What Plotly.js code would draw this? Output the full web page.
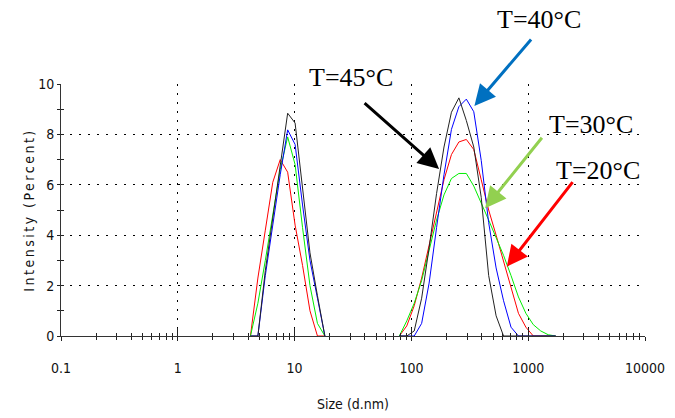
<!DOCTYPE html>
<html>
<head>
<meta charset="utf-8">
<script src="https://cdn.plot.ly/plotly-3.0.1.min.js"></script>
<style>
  html, body { margin: 0; padding: 0; background: #fff; }
  #chart { width: 675px; height: 418px; }
  .ytitle { letter-spacing: 2.5px; }
</style>
</head>
<body>
<div id="chart"></div>
<script>
// Size bins (d.nm) for the two peaks
const sizesSmall = [4.187, 4.849, 5.615, 6.503, 7.531, 8.721, 10.10, 11.70, 13.54, 15.69, 18.17];
const sizesLarge = [78.82, 91.28, 105.7, 122.4, 141.8, 164.2, 190.1, 220.2, 255.0, 295.3, 342.0, 396.1,
                    458.7, 531.2, 615.1, 712.4, 825.0, 955.4, 1106, 1281, 1484, 1718];

// Intensity (%) per temperature
const t20Small = [0, 2.3, 4.2, 6.1, 7.0, 6.5, 4.4, 2.8, 1.0, 0, 0];
const t20Large = [0, 0.4, 1.2, 2.3, 3.6, 4.9, 6.2, 7.2, 7.7, 7.8, 7.4, 6.2, 5.0, 4.0, 3.0, 1.9, 0.9, 0.35, 0, 0, 0, 0];

const t30Small = [0, 1.3, 3.0, 4.8, 6.6, 7.9, 6.8, 4.3, 2.0, 0.5, 0];
const t30Large = [0, 0.6, 1.3, 2.2, 3.4, 4.6, 5.6, 6.25, 6.45, 6.45, 5.95, 5.3, 4.6, 3.9, 3.2, 2.4, 1.55, 0.9, 0.45, 0.2, 0.05, 0];

const t40Small = [0, 0, 2.4, 4.4, 6.4, 8.18, 7.6, 5.2, 3.0, 1.5, 0];
const t40Large = [0, 0, 0, 0.5, 2.1, 4.3, 6.4, 8.2, 9.1, 9.4, 8.9, 6.97, 4.5, 2.7, 1.4, 0.35, 0, 0, 0, 0, 0, 0];

const t45Small = [0, 0, 2.6, 4.7, 6.8, 8.84, 8.45, 5.9, 3.3, 1.6, 0];
const t45Large = [0, 0, 0.2, 1.5, 3.5, 5.65, 7.5, 8.88, 9.45, 8.55, 7.5, 5.5, 2.4, 0.8, 0, 0, 0, 0, 0, 0, 0, 0];

// Axis ticks
const xTickVals = [0.1, 1, 10, 100, 1000, 10000];
const xTickText = ['0.1', '1', '10', '100', '1000', '10000'];
const yTickVals = [0, 2, 4, 6, 8, 10];
const yTickText = ['0', '2', '4', '6', '8', '10'];

// Annotation labels
const labels = ['T=20°C', 'T=30°C', 'T=40°C', 'T=45°C'];

const series = [
  {name: labels[0], small: t20Small, large: t20Large, color: '#ff0000'},
  {name: labels[1], small: t30Small, large: t30Large, color: '#00ee00'},
  {name: labels[2], small: t40Small, large: t40Large, color: '#0000ff'},
  {name: labels[3], small: t45Small, large: t45Large, color: '#222222'}
];

const traces = series.map(s => ({
  type: 'scatter', mode: 'lines', name: s.name,
  x: sizesSmall.concat([null], sizesLarge),
  y: s.small.concat([null], s.large),
  line: {color: s.color, width: 1},
  connectgaps: false,
  hoverinfo: 'skip'
}));
// empty trace to activate overlay axes (tick marks inside)
traces.push({type: 'scatter', mode: 'lines', x: [], y: [], xaxis: 'x2', yaxis: 'y2', showlegend: false});

const tickFont = {family: '"DejaVu Sans Condensed", "Liberation Sans Narrow", "Arial Narrow", "Liberation Sans", Arial, sans-serif', size: 14, color: '#111'};
const serif = {family: '"Liberation Serif", "Times New Roman", serif', size: 26, color: '#000'};

const grid = {showgrid: true, gridcolor: '#000', gridwidth: 1, griddash: '1.5px,7.5px'};

const layout = {
  width: 675, height: 418,
  margin: {l: 61, r: 30, t: 84, b: 82},
  paper_bgcolor: '#fff', plot_bgcolor: '#fff',
  showlegend: false,
  xaxis: Object.assign({
    type: 'log', range: [-1, 4],
    tickmode: 'array', tickvals: xTickVals, ticktext: xTickText,
    ticks: 'outside', ticklen: 4, tickwidth: 1, tickcolor: '#222',
    minor: {dtick: 'D1', ticks: 'outside', ticklen: 3, tickcolor: '#222', showgrid: false},
    showline: true, linecolor: '#333', linewidth: 1,
    zeroline: false, tickfont: tickFont, ticklabelstandoff: 15,
    title: {text: 'Size (d.nm)', font: tickFont, standoff: 24}
  }, grid),
  yaxis: Object.assign({
    range: [0, 10],
    tickmode: 'array', tickvals: yTickVals, ticktext: yTickText,
    ticks: 'outside', ticklen: 3, tickwidth: 1, tickcolor: '#222',
    minor: {dtick: 1, ticks: 'outside', ticklen: 3, tickcolor: '#222', showgrid: false},
    showline: true, linecolor: '#333', linewidth: 1,
    zeroline: false, tickfont: tickFont,
    title: {text: 'Intensity (Percent)', font: tickFont, standoff: 0}
  }, grid),
  xaxis2: {
    type: 'log', range: [-1, 4], overlaying: 'x', anchor: 'y', side: 'bottom',
    tickmode: 'array', tickvals: xTickVals, showticklabels: false,
    ticks: 'inside', ticklen: 8, tickwidth: 1, tickcolor: '#222',
    minor: {dtick: 'D1', ticks: 'inside', ticklen: 3, tickcolor: '#222', showgrid: false},
    showgrid: false, showline: false, zeroline: false
  },
  yaxis2: {
    range: [0, 10], overlaying: 'y', anchor: 'x', side: 'left',
    tickmode: 'array', tickvals: yTickVals, showticklabels: false,
    ticks: 'inside', ticklen: 3, tickwidth: 1, tickcolor: '#222',
    minor: {dtick: 1, ticks: 'inside', ticklen: 3, tickcolor: '#222', showgrid: false},
    showgrid: false, showline: false, zeroline: false
  },
  annotations: [
    // labels
    {xref: 'paper', yref: 'paper', x: 0.8185, y: 1.254, text: labels[2], showarrow: false, font: serif, xanchor: 'center', yanchor: 'middle'},
    {xref: 'paper', yref: 'paper', x: 0.497, y: 1.024, text: labels[3], showarrow: false, font: serif, xanchor: 'center', yanchor: 'middle'},
    {xref: 'paper', yref: 'paper', x: 0.9076, y: 0.841, text: labels[1], showarrow: false, font: serif, xanchor: 'center', yanchor: 'middle'},
    {xref: 'paper', yref: 'paper', x: 0.9196, y: 0.655, text: labels[0], showarrow: false, font: serif, xanchor: 'center', yanchor: 'middle'},
    // arrows
    {x: Math.log10(346), y: 9.13, ax: 58, ay: -68, text: '', showarrow: true, arrowhead: 2, arrowsize: 1.4, arrowwidth: 3, arrowcolor: '#0070c0'},
    {x: Math.log10(172.6), y: 6.63, ax: -76, ay: -67, text: '', showarrow: true, arrowhead: 2, arrowsize: 1.4, arrowwidth: 3, arrowcolor: '#000000'},
    {x: Math.log10(427.6), y: 5.07, ax: 58, ay: -72, text: '', showarrow: true, arrowhead: 2, arrowsize: 1.4, arrowwidth: 3, arrowcolor: '#92d050'},
    {x: Math.log10(655.6), y: 2.75, ax: 67, ay: -86, text: '', showarrow: true, arrowhead: 2, arrowsize: 1.4, arrowwidth: 3, arrowcolor: '#ff0000'}
  ]
};

Plotly.newPlot('chart', traces, layout, {staticPlot: true, displayModeBar: false});
</script>
</body>
</html>
